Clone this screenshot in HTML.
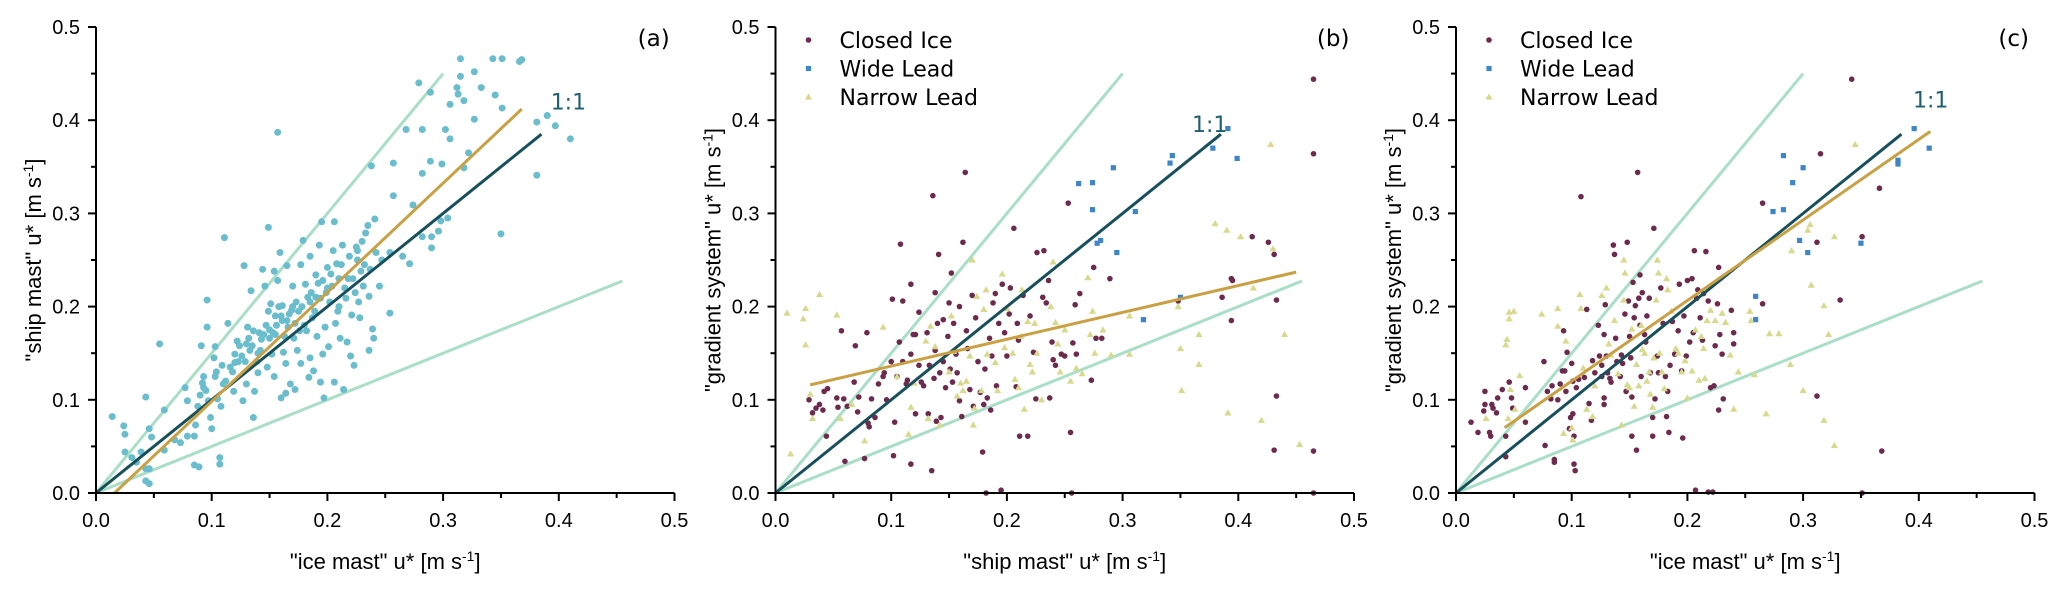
<!DOCTYPE html>
<html><head><meta charset="utf-8"><style>
html,body{margin:0;padding:0;background:#fff;}
svg{display:block;font-family:"Liberation Sans",Arial,sans-serif;}
</style></head><body>
<svg id="chart" width="2067" height="591" viewBox="0 0 2067 591" xmlns="http://www.w3.org/2000/svg"></svg>
<script>
// Panel (a): ice mast vs ship mast
const aX=[0.014,0.024,0.025,0.025,0.031,0.035,0.039,0.043,0.046,0.048,0.043,0.046,0.043,0.046,0.055,0.059,0.059,0.068,0.073,0.077,0.079,0.079,0.085,0.089,0.085,0.086,0.088,0.09,0.091,0.093,0.093,0.096,0.096,0.097,0.099,0.1,0.102,0.103,0.103,0.105,0.107,0.107,0.108,0.109,0.11,0.111,0.114,0.116,0.119,0.12,0.122,0.123,0.127,0.128,0.129,0.13,0.131,0.133,0.134,0.136,0.136,0.137,0.139,0.14,0.142,0.144,0.145,0.146,0.148,0.149,0.15,0.151,0.152,0.154,0.154,0.156,0.157,0.157,0.159,0.16,0.161,0.162,0.164,0.164,0.165,0.167,0.168,0.17,0.171,0.172,0.173,0.174,0.176,0.177,0.179,0.181,0.182,0.184,0.185,0.185,0.187,0.188,0.19,0.191,0.193,0.194,0.194,0.195,0.196,0.197,0.198,0.2,0.201,0.202,0.204,0.206,0.206,0.207,0.208,0.21,0.211,0.213,0.214,0.216,0.217,0.219,0.22,0.221,0.222,0.223,0.225,0.227,0.228,0.229,0.23,0.231,0.233,0.235,0.236,0.236,0.238,0.239,0.24,0.241,0.242,0.245,0.247,0.254,0.254,0.257,0.257,0.265,0.268,0.271,0.274,0.279,0.282,0.282,0.282,0.289,0.29,0.29,0.289,0.296,0.298,0.299,0.302,0.304,0.306,0.306,0.312,0.313,0.315,0.315,0.318,0.318,0.322,0.327,0.327,0.333,0.343,0.345,0.35,0.351,0.351,0.366,0.368,0.381,0.381,0.397,0.41,0.39,0.12,0.13,0.15,0.16,0.17,0.18,0.19,0.2,0.21,0.14,0.155,0.165,0.175,0.185,
0.092,0.095,0.104,0.112,0.118,0.124,0.126,0.132,0.135,0.141,0.143,0.147,0.149,0.153,0.155,0.158,0.161,0.163,0.166,0.169,0.172,0.178,0.183,0.186,0.189,0.192,0.199,0.203,0.209,0.212,0.215,0.218,0.224,0.226,0.232,0.237,0.226,0.205,0.196,0.177];
const aY=[0.082,0.072,0.063,0.044,0.038,0.033,0.044,0.103,0.069,0.06,0.026,0.026,0.013,0.010,0.16,0.089,0.046,0.057,0.054,0.113,0.099,0.061,0.030,0.028,0.061,0.073,0.093,0.105,0.158,0.125,0.113,0.207,0.178,0.099,0.081,0.069,0.145,0.125,0.157,0.101,0.038,0.031,0.093,0.137,0.117,0.274,0.182,0.135,0.109,0.149,0.163,0.141,0.099,0.244,0.141,0.117,0.178,0.153,0.217,0.174,0.081,0.109,0.141,0.129,0.153,0.24,0.17,0.222,0.135,0.285,0.166,0.203,0.149,0.238,0.125,0.18,0.228,0.387,0.258,0.102,0.201,0.151,0.139,0.107,0.244,0.192,0.117,0.222,0.166,0.111,0.205,0.153,0.174,0.139,0.271,0.224,0.174,0.124,0.254,0.145,0.188,0.131,0.234,0.168,0.266,0.209,0.119,0.291,0.149,0.102,0.178,0.242,0.157,0.205,0.222,0.291,0.119,0.182,0.246,0.23,0.166,0.266,0.111,0.209,0.162,0.254,0.147,0.191,0.23,0.137,0.264,0.205,0.188,0.238,0.27,0.222,0.279,0.287,0.211,0.153,0.351,0.176,0.166,0.294,0.258,0.222,0.25,0.193,0.258,0.319,0.354,0.254,0.39,0.246,0.309,0.44,0.39,0.343,0.275,0.356,0.263,0.275,0.43,0.281,0.292,0.353,0.39,0.295,0.38,0.417,0.435,0.428,0.466,0.447,0.421,0.349,0.365,0.401,0.452,0.435,0.466,0.427,0.278,0.466,0.413,0.463,0.465,0.398,0.341,0.394,0.38,0.405,0.14,0.16,0.175,0.19,0.2,0.18,0.21,0.22,0.2,0.15,0.17,0.185,0.195,0.205,
0.118,0.11,0.13,0.12,0.13,0.158,0.147,0.166,0.158,0.172,0.165,0.18,0.195,0.172,0.19,0.2,0.185,0.168,0.178,0.196,0.182,0.2,0.21,0.215,0.195,0.225,0.215,0.235,0.195,0.245,0.22,0.23,0.215,0.25,0.245,0.24,0.26,0.26,0.228,0.245];
// Panel (b): ship mast vs gradient system
const bCiX=[0.029,0.032,0.035,0.038,0.041,0.042,0.045,0.044,0.053,0.054,0.057,0.059,0.06,0.062,0.069,0.068,0.071,0.072,0.077,0.079,0.08,0.081,0.083,0.086,0.089,0.093,0.094,0.096,0.1,0.101,0.103,0.102,0.105,0.107,0.108,0.11,0.11,0.113,0.114,0.117,0.117,0.117,0.119,0.121,0.121,0.124,0.124,0.126,0.128,0.131,0.132,0.133,0.135,0.136,0.137,0.138,0.138,0.139,0.14,0.141,0.142,0.143,0.145,0.145,0.147,0.149,0.15,0.151,0.152,0.153,0.154,0.156,0.157,0.159,0.159,0.161,0.162,0.164,0.165,0.166,0.168,0.17,0.171,0.173,0.175,0.177,0.179,0.18,0.181,0.182,0.183,0.185,0.186,0.187,0.188,0.19,0.191,0.193,0.195,0.196,0.198,0.2,0.202,0.203,0.206,0.208,0.209,0.21,0.211,0.214,0.218,0.22,0.223,0.225,0.226,0.232,0.231,0.234,0.236,0.237,0.239,0.24,0.242,0.247,0.25,0.253,0.255,0.256,0.257,0.259,0.26,0.263,0.273,0.275,0.277,0.282,0.289,0.348,0.386,0.394,0.395,0.394,0.412,0.426,0.431,0.433,0.433,0.431,0.465,0.465,0.465,0.465];
const bCiY=[0.1,0.086,0.091,0.095,0.089,0.109,0.112,0.061,0.102,0.092,0.174,0.101,0.034,0.093,0.158,0.119,0.087,0.103,0.037,0.172,0.075,0.071,0.101,0.081,0.117,0.125,0.129,0.1,0.141,0.208,0.076,0.04,0.125,0.162,0.267,0.206,0.141,0.117,0.121,0.224,0.031,0.149,0.17,0.085,0.17,0.137,0.194,0.119,0.115,0.172,0.085,0.137,0.024,0.319,0.123,0.215,0.153,0.077,0.182,0.256,0.129,0.081,0.186,0.141,0.113,0.168,0.204,0.133,0.236,0.119,0.182,0.149,0.129,0.2,0.099,0.082,0.269,0.344,0.174,0.155,0.111,0.212,0.093,0.188,0.141,0.108,0.044,0.095,0.133,0.0,0.102,0.166,0.089,0.147,0.204,0.214,0.115,0.182,0.003,0.224,0.172,0.147,0.192,0.22,0.284,0.114,0.182,0.164,0.061,0.212,0.061,0.19,0.151,0.101,0.258,0.26,0.21,0.204,0.228,0.102,0.162,0.143,0.137,0.149,0.147,0.311,0.065,0.0,0.161,0.202,0.149,0.214,0.121,0.242,0.166,0.166,0.23,0.206,0.21,0.23,0.228,0.185,0.275,0.269,0.256,0.207,0.104,0.046,0.444,0.364,0.045,0.0];
const bWlX=[0.262,0.274,0.274,0.278,0.281,0.292,0.295,0.311,0.318,0.341,0.343,0.35,0.378,0.391,0.399];
const bWlY=[0.332,0.333,0.304,0.268,0.271,0.349,0.258,0.302,0.186,0.354,0.362,0.21,0.37,0.391,0.359];
const bNlX=[0.01,0.013,0.024,0.026,0.026,0.03,0.032,0.038,0.053,0.056,0.066,0.077,0.093,0.105,0.115,0.117,0.12,0.13,0.132,0.134,0.138,0.142,0.15,0.152,0.154,0.157,0.16,0.162,0.165,0.168,0.17,0.171,0.172,0.174,0.178,0.18,0.182,0.183,0.19,0.192,0.196,0.198,0.2,0.205,0.207,0.21,0.212,0.213,0.215,0.218,0.22,0.222,0.224,0.226,0.23,0.238,0.24,0.242,0.244,0.246,0.25,0.255,0.26,0.265,0.27,0.272,0.274,0.276,0.283,0.29,0.306,0.306,0.348,0.35,0.351,0.366,0.366,0.38,0.39,0.391,0.402,0.413,0.42,0.428,0.43,0.44,0.453];
const bNlY=[0.193,0.042,0.187,0.198,0.159,0.106,0.08,0.213,0.191,0.08,0.095,0.056,0.178,0.125,0.063,0.092,0.118,0.163,0.08,0.179,0.157,0.073,0.13,0.19,0.152,0.104,0.118,0.11,0.12,0.147,0.25,0.073,0.091,0.211,0.11,0.197,0.218,0.149,0.14,0.11,0.235,0.156,0.198,0.15,0.122,0.113,0.168,0.218,0.09,0.184,0.138,0.13,0.182,0.15,0.1,0.2,0.248,0.183,0.16,0.13,0.175,0.12,0.134,0.128,0.231,0.17,0.195,0.15,0.175,0.148,0.149,0.19,0.2,0.155,0.11,0.17,0.138,0.289,0.282,0.086,0.275,0.22,0.078,0.374,0.262,0.17,0.052];
// Panel (c): ice mast vs gradient system
const cCiX=[0.013,0.019,0.025,0.025,0.024,0.029,0.03,0.031,0.032,0.035,0.036,0.04,0.043,0.043,0.046,0.048,0.049,0.06,0.06,0.076,0.077,0.079,0.082,0.083,0.085,0.085,0.088,0.09,0.092,0.093,0.094,0.095,0.096,0.098,0.099,0.1,0.101,0.101,0.102,0.102,0.103,0.104,0.106,0.108,0.111,0.113,0.115,0.117,0.118,0.12,0.123,0.124,0.126,0.126,0.128,0.128,0.128,0.129,0.13,0.131,0.133,0.134,0.136,0.137,0.138,0.139,0.142,0.143,0.144,0.146,0.147,0.148,0.149,0.15,0.151,0.152,0.152,0.153,0.154,0.155,0.156,0.157,0.158,0.159,0.159,0.16,0.161,0.163,0.164,0.165,0.167,0.168,0.17,0.17,0.171,0.172,0.174,0.175,0.177,0.179,0.181,0.182,0.183,0.184,0.185,0.187,0.189,0.192,0.193,0.195,0.196,0.197,0.199,0.2,0.202,0.204,0.205,0.206,0.207,0.208,0.209,0.211,0.213,0.214,0.216,0.218,0.218,0.22,0.222,0.223,0.224,0.226,0.227,0.227,0.228,0.23,0.231,0.238,0.24,0.24,0.265,0.265,0.312,0.312,0.315,0.332,0.342,0.351,0.351,0.366,0.368];
const cCiY=[0.076,0.065,0.109,0.095,0.088,0.065,0.061,0.095,0.091,0.086,0.102,0.111,0.061,0.039,0.119,0.102,0.091,0.113,0.076,0.141,0.051,0.109,0.101,0.115,0.036,0.033,0.1,0.117,0.131,0.174,0.131,0.109,0.151,0.069,0.081,0.139,0.085,0.12,0.061,0.031,0.024,0.113,0.122,0.318,0.124,0.197,0.096,0.078,0.142,0.129,0.18,0.147,0.137,0.125,0.17,0.095,0.102,0.202,0.147,0.129,0.123,0.119,0.266,0.256,0.166,0.141,0.125,0.148,0.139,0.192,0.109,0.269,0.206,0.168,0.145,0.061,0.103,0.226,0.188,0.201,0.046,0.344,0.209,0.234,0.18,0.125,0.215,0.17,0.162,0.19,0.209,0.129,0.081,0.061,0.284,0.101,0.147,0.129,0.22,0.182,0.125,0.082,0.109,0.065,0.137,0.184,0.149,0.174,0.224,0.131,0.059,0.19,0.147,0.228,0.162,0.23,0.172,0.26,0.003,0.209,0.218,0.188,0.164,0.214,0.259,0.206,0.001,0.113,0.001,0.115,0.158,0.203,0.242,0.089,0.17,0.149,0.101,0.196,0.172,0.16,0.311,0.203,0.269,0.104,0.364,0.207,0.444,0.275,0.0,0.327,0.045];
const cWlX=[0.259,0.259,0.274,0.283,0.283,0.291,0.297,0.3,0.304,0.35,0.382,0.382,0.396,0.409];
const cWlY=[0.211,0.186,0.302,0.304,0.362,0.333,0.271,0.349,0.258,0.268,0.357,0.353,0.391,0.37];
const cNlX=[0.026,0.043,0.044,0.045,0.046,0.046,0.047,0.05,0.051,0.055,0.074,0.088,0.088,0.093,0.095,0.1,0.101,0.107,0.108,0.11,0.113,0.118,0.12,0.126,0.13,0.132,0.134,0.137,0.14,0.143,0.145,0.145,0.146,0.148,0.15,0.152,0.154,0.156,0.158,0.16,0.161,0.163,0.165,0.167,0.168,0.17,0.171,0.173,0.174,0.175,0.176,0.178,0.18,0.182,0.183,0.186,0.19,0.192,0.195,0.198,0.2,0.204,0.207,0.21,0.212,0.214,0.215,0.217,0.22,0.224,0.23,0.233,0.237,0.24,0.244,0.254,0.255,0.258,0.268,0.271,0.279,0.289,0.29,0.3,0.304,0.306,0.307,0.318,0.318,0.322,0.327,0.327,0.345];
const cNlY=[0.08,0.159,0.165,0.08,0.187,0.194,0.111,0.195,0.09,0.126,0.192,0.179,0.198,0.064,0.163,0.07,0.057,0.213,0.198,0.134,0.09,0.082,0.115,0.212,0.22,0.16,0.148,0.185,0.128,0.073,0.207,0.25,0.236,0.116,0.113,0.176,0.093,0.138,0.115,0.18,0.154,0.15,0.12,0.13,0.106,0.092,0.145,0.207,0.25,0.236,0.15,0.13,0.112,0.23,0.218,0.195,0.155,0.15,0.13,0.142,0.102,0.131,0.175,0.121,0.168,0.155,0.123,0.185,0.196,0.185,0.193,0.183,0.148,0.09,0.13,0.195,0.185,0.127,0.085,0.171,0.171,0.138,0.26,0.11,0.282,0.288,0.223,0.201,0.078,0.17,0.275,0.051,0.374];
// Fit lines [x1,y1,x2,y2] in data units
const aFit=[0.016,0.0,0.368,0.412];
const bFit=[0.03,0.116,0.45,0.237];
const cFit=[0.042,0.07,0.41,0.388];
const tickLabels=["0.0","0.1","0.2","0.3","0.4","0.5"];
const tickVals=[0,0.1,0.2,0.3,0.4,0.5];

const NS="http://www.w3.org/2000/svg";
const svg=document.getElementById('chart');
function mk(tag,attrs,parent){const e=document.createElementNS(NS,tag);for(const k in attrs)e.setAttribute(k,attrs[k]);(parent||svg).appendChild(e);return e;}
const Y0=493, YPX=932;
const XPX=1157;
function panel(x0,id,xTitle,yTitle,label,oneOne,fit,series,legend){
  const g=mk('g',{});
  
  
  const sx=v=>x0+v*XPX, sy=v=>Y0-v*YPX;
  const ref=[[0.3,0.45,'#a9dfc6','upper-bound-line'],[0.455,0.2275,'#a9dfc6','lower-bound-line']];
  ref.forEach(r=>{const l=mk('line',{x1:sx(0),y1:sy(0),x2:sx(r[0]),y2:sy(r[1]),stroke:r[2],'stroke-width':3},g);
    
    });
  series.forEach(s=>{
    s.x.forEach((xv,i)=>{
      const px=sx(xv), py=sy(s.y[i]); let m;
      if(s.shape==='circle') m=mk('circle',{cx:px,cy:py,r:s.r,fill:s.color},g);
      else if(s.shape==='square') m=mk('rect',{x:px-2.6,y:py-2.6,width:5.2,height:5.2,fill:s.color},g);
      else m=mk('polygon',{points:`${px},${py-3.6} ${px-3.6},${py+2.6} ${px+3.6},${py+2.6}`,fill:s.color},g);
      
      
    });
  });
  const one=mk('line',{x1:sx(0),y1:sy(0),x2:sx(0.385),y2:sy(0.385),stroke:'#17505c','stroke-width':3},g);
  
  
  const f=mk('line',{x1:sx(fit[0]),y1:sy(fit[1]),x2:sx(fit[2]),y2:sy(fit[3]),stroke:'#c9a043','stroke-width':3},g);
  
  
  const ol=mk('text',{x:sx(oneOne[0]),y:sy(oneOne[1])+8,'font-size':22,fill:'#1e5f70','font-family':'"DejaVu Sans",sans-serif'},g);
  ol.textContent='1:1';
  
  
  const ax=mk('path',{d:`M${x0} ${sy(0.5)} L${x0} ${Y0} L${sx(0.5)} ${Y0}`,fill:'none',stroke:'#000','stroke-width':2},g);
  
  
  tickVals.forEach((v,i)=>{
    mk('line',{x1:sx(v),y1:Y0,x2:sx(v),y2:Y0+8,stroke:'#000','stroke-width':2},g);
    mk('line',{x1:x0,y1:sy(v),x2:x0-8,y2:sy(v),stroke:'#000','stroke-width':2},g);
    if(i<5){
      mk('line',{x1:sx(v+0.05),y1:Y0,x2:sx(v+0.05),y2:Y0+5,stroke:'#000','stroke-width':2},g);
      mk('line',{x1:x0,y1:sy(v+0.05),x2:x0-5,y2:sy(v+0.05),stroke:'#000','stroke-width':2},g);
    }
    const tx=mk('text',{x:sx(v),y:Y0+34,'font-size':20,'text-anchor':'middle',fill:'#000'},g);
    tx.textContent=tickLabels[i];
    
    
    const ty=mk('text',{x:x0-16,y:sy(v)+7,'font-size':20,'text-anchor':'end',fill:'#000'},g);
    ty.textContent=tickLabels[i];
    
    
  });
  const xt=mk('text',{x:sx(0.25),y:569,'font-size':22,'text-anchor':'middle',fill:'#000'},g);
  xt.innerHTML=xTitle+' u* [m s<tspan dy="-8" font-size="14">-1</tspan><tspan dy="8">]</tspan>';
  
  
  const yt=mk('text',{x:0,y:0,'font-size':22,'text-anchor':'middle',fill:'#000',transform:`translate(${x0-55},${sy(0.25)}) rotate(-90)`},g);
  yt.innerHTML=yTitle+' u* [m s<tspan dy="-8" font-size="14">-1</tspan><tspan dy="8">]</tspan>';
  
  
  const pl=mk('text',{x:sx(0.482),y:46,'font-size':23,'text-anchor':'middle',fill:'#000','font-family':'"DejaVu Sans",sans-serif'},g);
  pl.textContent=label;
  
  
  if(legend){
    const lg=mk('g',{},g);
    
    
    series.forEach((s,i)=>{
      const yy=40+i*28.5, mx=x0+33;
      let m;
      if(s.shape==='circle') m=mk('circle',{cx:mx,cy:yy,r:2.8,fill:s.color},lg);
      else if(s.shape==='square') m=mk('rect',{x:mx-2.6,y:yy-2.6,width:5.2,height:5.2,fill:s.color},lg);
      else m=mk('polygon',{points:`${mx},${yy-3.6} ${mx-3.6},${yy+2.6} ${mx+3.6},${yy+2.6}`,fill:s.color},lg);
      
      
      const t=mk('text',{x:x0+64,y:yy+8,'font-size':22,fill:'#000','font-family':'"DejaVu Sans",sans-serif'},lg);
      t.textContent=s.label;
      
      
    });
  }
}
const PU='#6d2a4d', BL='#3c86c7', YL='#d7d98c';
panel(96,'a','"ice mast"','"ship mast"','(a)',[0.393,0.42],aFit,
  [{name:'ice-ship',x:aX,y:aY,shape:'circle',r:3.5,color:'#69bdcd'}],false);
panel(775.5,'b','"ship mast"','"gradient system"','(b)',[0.36,0.396],bFit,
  [{name:'closed-ice',label:'Closed Ice',x:bCiX,y:bCiY,shape:'circle',r:2.8,color:PU},
   {name:'wide-lead',label:'Wide Lead',x:bWlX,y:bWlY,shape:'square',color:BL},
   {name:'narrow-lead',label:'Narrow Lead',x:bNlX,y:bNlY,shape:'tri',color:YL}],true);
panel(1456,'c','"ice mast"','"gradient system"','(c)',[0.395,0.422],cFit,
  [{name:'closed-ice',label:'Closed Ice',x:cCiX,y:cCiY,shape:'circle',r:2.8,color:PU},
   {name:'wide-lead',label:'Wide Lead',x:cWlX,y:cWlY,shape:'square',color:BL},
   {name:'narrow-lead',label:'Narrow Lead',x:cNlX,y:cNlY,shape:'tri',color:YL}],true);
</script>
</body></html>
